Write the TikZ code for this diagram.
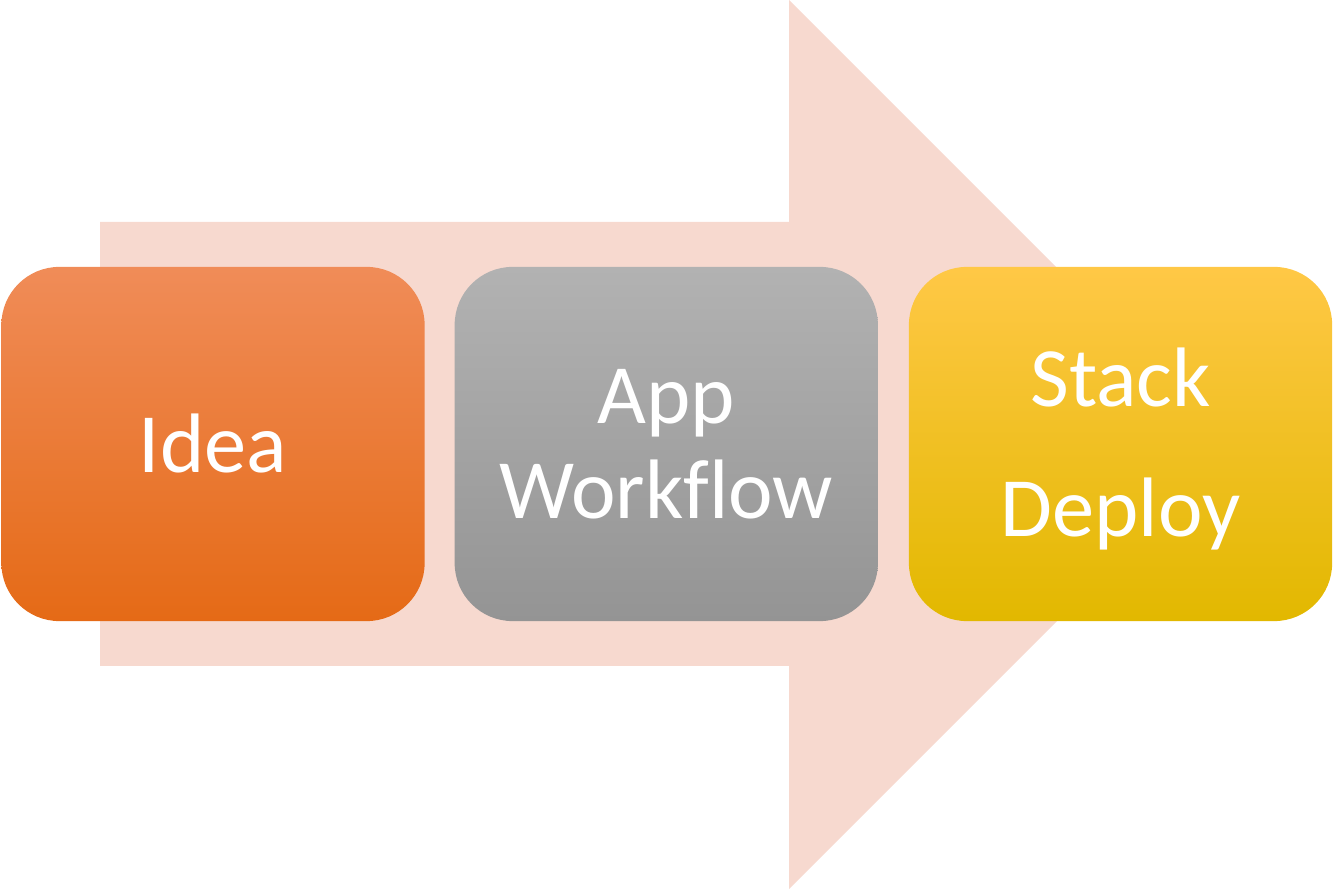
\documentclass[tikz,border=0pt]{standalone}
\usepackage{fontspec}
\setmainfont{Carlito}[Ligatures=CommonOff]
\usetikzlibrary{positioning, shadings}
\definecolor{arrowpink}{RGB}{247, 217, 207}
\definecolor{ideatop}{RGB}{240, 140, 88}
\definecolor{ideamid}{RGB}{244, 126, 44}
\definecolor{ideabot}{RGB}{229, 106, 22}
\definecolor{apptop}{RGB}{178, 178, 178}
\definecolor{appbot}{RGB}{148, 148, 148}
\definecolor{stacktop}{RGB}{255, 200, 70}
\definecolor{stackmid}{RGB}{255, 200, 0}
\definecolor{stackbot}{RGB}{226, 184, 0}

\begin{document}
\begin{tikzpicture}[x=0.01cm, y=-0.01cm,
  stepbox/.style={rectangle, rounded corners=0.58cm, minimum width=4.23cm, minimum height=3.54cm,
    align=center, text=white, font=\fontsize{24}{27}\selectfont, inner sep=0pt, outer sep=0pt}]
  \useasboundingbox (0,0) rectangle (1334,889);

  % big background arrow
  \fill[arrowpink] (100,222) -- (789,222) -- (789,0) -- (1233.5,444.5) -- (789,889) -- (789,666) -- (100,666) -- cycle;

  \node[stepbox, top color=ideatop, middle color=ideamid, bottom color=ideabot] (idea) at (213,444) {Idea};
  \node[stepbox, top color=apptop, bottom color=appbot, right=0.3cm of idea] (app) {App\\Workflow};
  \node[stepbox, top color=stacktop, middle color=stackmid, bottom color=stackbot, right=0.31cm of app] (stack) {\rule{0pt}{19.7pt}Stack\\[10pt]Deploy};
\end{tikzpicture}
\end{document}
